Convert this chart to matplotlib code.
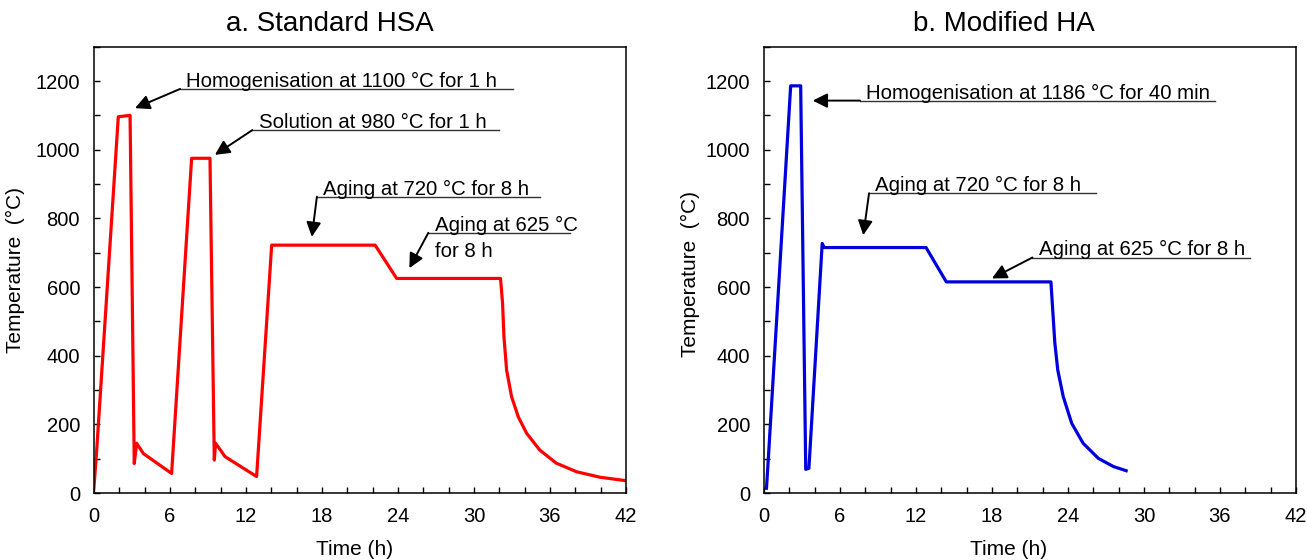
import numpy as np
import matplotlib.pyplot as plt
from matplotlib.ticker import MultipleLocator

plt.rcParams['font.family'] = ['Liberation Sans', 'DejaVu Sans']

# a. Standard HSA - time (h) / temperature (degC)
hsa_time = [0, 0.2, 1.92, 2.85, 3.18, 3.37, 3.9, 6.13, 7.71, 9.16, 9.5, 9.6, 10.35, 12.84,
            14.03, 22.2, 23.9, 32.1, 32.26, 32.37, 32.58, 32.97, 33.5, 34.16, 35.2, 36.5,
            38.1, 39.95, 42.0]
hsa_temp = [18, 116, 1096, 1100, 86, 145, 115, 57, 975, 975, 96, 145, 106, 48,
            722, 722, 625, 625, 553, 455, 358, 281, 222, 174, 125, 87,
            62, 46, 36]

# b. Modified HA
ha_time = [0.2, 0.34, 2.11, 2.9, 3.3, 3.55, 4.6, 4.75, 12.8, 14.4, 22.66, 22.8, 22.97,
           23.2, 23.63, 24.3, 25.2, 26.4, 27.6, 28.6]
ha_temp = [14, 96, 1186, 1186, 69, 72, 727, 715, 715, 615, 615, 533, 436,
           358, 281, 203, 145, 101, 77, 65]

titles = ['a. Standard HSA', 'b. Modified HA']

# (text, underline x0, x1, y, arrow tip x, y)
hsa_notes = [('Homogenisation at 1100 °C for 1 h', 6.8, 33.1, 1177, 3.24, 1121),
             ('Solution at 980 °C for 1 h', 12.5, 32.0, 1057, 9.55, 985),
             ('Aging at 720 °C for 8 h', 17.6, 35.2, 863, 17.2, 746),
             ('Aging at 625 °C', 26.4, 37.6, 758, 24.9, 655)]
ha_notes = [('Homogenisation at 1186 °C for 40 min', 7.58, 35.6, 1143, 3.85, 1143),
            ('Aging at 720 °C for 8 h', 8.3, 26.2, 873, 7.84, 751),
            ('Aging at 625 °C for 8 h', 21.2, 38.4, 686, 18.0, 625)]

fig = plt.figure(figsize=(13.07, 5.6), dpi=100)
ax1 = fig.add_axes([0.0719, 0.1196, 0.407, 0.797])
ax2 = fig.add_axes([0.5845, 0.1196, 0.407, 0.797])

ax1.plot(hsa_time, hsa_temp, color='#ff0000', lw=2.3, solid_joinstyle='round')
ax2.plot(ha_time, ha_temp, color='#0000dd', lw=2.3, solid_joinstyle='round')


def add_notes(ax, notes):
    for txt, x0, x1, y, tx, ty in notes:
        ax.plot([x0, x1], [y, y], color='#333333', lw=1.0, clip_on=False)
        ax.text(x0 + 0.5, y + 6, txt, fontsize=14.7, va='baseline', ha='left')
        ax.annotate('', xy=(tx, ty), xytext=(x0, y),
                    arrowprops=dict(arrowstyle='-|>', color='black', lw=1.4,
                                    mutation_scale=22, shrinkA=0, shrinkB=0))


add_notes(ax1, hsa_notes)
add_notes(ax2, ha_notes)
ax1.text(26.9, 687, 'for 8 h', fontsize=14.7, va='baseline', ha='left')

for ax, title, tx in zip([ax1, ax2], titles, [0.444, 0.451]):
    ax.set_xlim(0, 42)
    ax.set_ylim(0, 1300)
    ax.xaxis.set_major_locator(MultipleLocator(6))
    ax.xaxis.set_minor_locator(MultipleLocator(2))
    ax.yaxis.set_minor_locator(MultipleLocator(100))
    ax.set_yticks(np.arange(0, 1201, 200))
    ax.tick_params(which='both', direction='in', length=4, width=1.0,
                   top=False, right=False, labelsize=14.5, pad=10)
    for s in ax.spines.values():
        s.set_linewidth(1.1)
    ax.set_xlabel('Time (h)', fontsize=15)
    ax.set_ylabel('Temperature  (°C)', fontsize=15)
    ax.set_title(title, fontsize=20, x=tx, pad=11)

ax1.xaxis.set_label_coords(0.489, -0.105)
ax2.xaxis.set_label_coords(0.46, -0.105)
ax1.yaxis.set_label_coords(-0.13, 0.5)
ax2.yaxis.set_label_coords(-0.12, 0.49)

fig.savefig('out.png', dpi=100)
